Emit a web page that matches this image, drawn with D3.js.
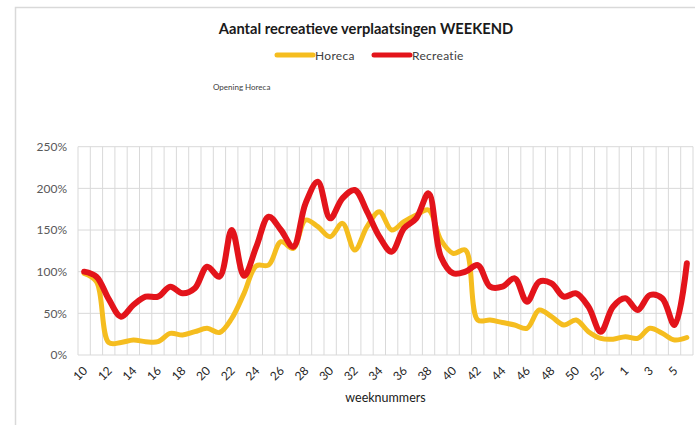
<!DOCTYPE html>
<html>
<head>
<meta charset="utf-8">
<script src="https://cdn.jsdelivr.net/npm/d3@7"></script>
<style>
  body { margin: 0; background: #fff; }
  svg { display: block; font-family: Lato, "Open Sans", sans-serif; }
</style>
</head>
<body>
<svg id="chart" width="695" height="425"></svg>
<script>
// weeknummers (2020 had week 53)
let weeks = [10, 11, 12, 13, 14, 15, 16, 17, 18, 19, 20, 21, 22, 23, 24, 25, 26, 27, 28, 29,
  30, 31, 32, 33, 34, 35, 36, 37, 38, 39, 40, 41, 42, 43, 44, 45, 46, 47, 48, 49,
  50, 51, 52, 53, 1, 2, 3, 4, 5, 6];

// percentages
let horeca = [98, 88, 15, 15, 18, 16, 16, 26, 24, 28, 32, 27, 44, 74, 107, 108, 136, 128, 162, 154,
  142, 158, 126, 154, 172, 150, 160, 168, 174, 138, 122, 126, 42, 42, 39, 36, 32, 54, 46, 36,
  42, 28, 20, 19, 22, 20, 32, 26, 18, 21];
let recreatie = [100, 94, 67, 46, 60, 70, 70, 82, 74, 80, 106, 94, 150, 95, 130, 166, 150, 130, 182, 208,
  164, 188, 198, 172, 142, 124, 152, 164, 194, 118, 98, 100, 108, 82, 82, 92, 64, 88, 86, 70,
  74, 58, 28, 58, 68, 54, 72, 68, 36, 110];

let yTicks = [0, 50, 100, 150, 200, 250];

let seriesList = [
  { name: "Horeca", values: horeca, color: "#f5bd1f", width: 5 },
  { name: "Recreatie", values: recreatie, color: "#e3141b", width: 6 }
];

let svg = d3.select("#chart");

// chart border (cut off at right/bottom like the screenshot)
svg.append("rect")
  .attr("x", 15.5).attr("y", 7.5)
  .attr("width", 720).attr("height", 440)
  .attr("fill", "none")
  .attr("stroke", "#d9d9d9")
  .attr("stroke-width", 1.5);

let plot = { left: 78, right: 693, top: 146.7, bottom: 355 };

let x = d3.scaleBand()
  .domain(d3.range(weeks.length))
  .range([plot.left, plot.right])
  .padding(0);

let y = d3.scaleLinear()
  .domain([0, 250])
  .range([plot.bottom, plot.top]);

let cx = (i) => x(i) + x.bandwidth() / 2;

// horizontal gridlines
svg.append("g")
  .selectAll("line")
  .data(yTicks)
  .enter()
  .append("line")
  .attr("x1", plot.left).attr("x2", plot.right)
  .attr("y1", (d) => y(d)).attr("y2", (d) => y(d))
  .attr("stroke", "#d9d9d9")
  .attr("stroke-width", 1);

// vertical gridlines on the category boundaries
svg.append("g")
  .selectAll("line")
  .data(d3.range(weeks.length + 1))
  .enter()
  .append("line")
  .attr("x1", (k) => (k < weeks.length ? x(k) : plot.right))
  .attr("x2", (k) => (k < weeks.length ? x(k) : plot.right))
  .attr("y1", plot.top).attr("y2", plot.bottom)
  .attr("stroke", "#d9d9d9")
  .attr("stroke-width", 1);

// y axis labels
let yAxis = d3.axisLeft(y)
  .tickValues(yTicks)
  .tickFormat((d) => d + "%")
  .tickSize(0)
  .tickPadding(11);

let yAxisG = svg.append("g")
  .attr("transform", "translate(" + plot.left + ",0)")
  .call(yAxis);
yAxisG.select(".domain").remove();
yAxisG.selectAll("text")
  .attr("fill", "#595959")
  .style("font-size", "12px")
  .style("font-family", "Lato, sans-serif");

// x axis labels, every second week, rotated
let xAxis = d3.axisBottom(x)
  .tickValues(d3.range(0, weeks.length, 2))
  .tickFormat((i) => weeks[i])
  .tickSize(0);

let xAxisG = svg.append("g")
  .attr("transform", "translate(0," + plot.bottom + ")")
  .call(xAxis);
xAxisG.select(".domain").remove();
xAxisG.selectAll("text")
  .attr("y", 0)
  .attr("dy", "0.35em")
  .attr("transform", "translate(1,13.5) rotate(-45)")
  .style("text-anchor", "end")
  .attr("fill", "#262626")
  .style("font-size", "12px")
  .style("font-family", "Lato, sans-serif");

// the lines (Excel-style smoothed)
let line = d3.line()
  .x((d, i) => cx(i))
  .y((d) => y(d))
  .curve(d3.curveCatmullRom.alpha(0.5));

svg.append("g")
  .selectAll("path")
  .data(seriesList)
  .enter()
  .append("path")
  .attr("d", (s) => line(s.values))
  .attr("fill", "none")
  .attr("stroke", (s) => s.color)
  .attr("stroke-width", (s) => s.width)
  .attr("stroke-linejoin", "round")
  .attr("stroke-linecap", "round");

// title
svg.append("text")
  .attr("x", 366)
  .attr("y", 34)
  .attr("text-anchor", "middle")
  .attr("fill", "#1a1a1a")
  .style("font-weight", "bold")
  .style("font-size", "14.7px")
  .text("Aantal recreatieve verplaatsingen WEEKEND");

// legend
let legendX = [277, 374];
let legend = svg.append("g")
  .selectAll("g")
  .data(seriesList)
  .enter()
  .append("g")
  .attr("transform", (s, i) => "translate(" + legendX[i] + ",55)");

legend.append("line")
  .attr("x1", 0).attr("x2", 36)
  .attr("y1", 0).attr("y2", 0)
  .attr("stroke", (s) => s.color)
  .attr("stroke-width", 5)
  .attr("stroke-linecap", "round");

legend.append("text")
  .attr("x", 38)
  .attr("y", 4.5)
  .attr("fill", "#404040")
  .style("font-size", "12px")
  .style("letter-spacing", "0.3px")
  .text((s) => s.name);

// annotation
svg.append("text")
  .attr("x", 213)
  .attr("y", 90)
  .attr("fill", "#404040")
  .style("font-size", "8px")
  .text("Opening Horeca");

// axis title
svg.append("text")
  .attr("x", (plot.left + plot.right) / 2)
  .attr("y", 402)
  .attr("text-anchor", "middle")
  .attr("fill", "#1a1a1a")
  .style("font-size", "12.5px")
  .text("weeknummers");
</script>
</body>
</html>
